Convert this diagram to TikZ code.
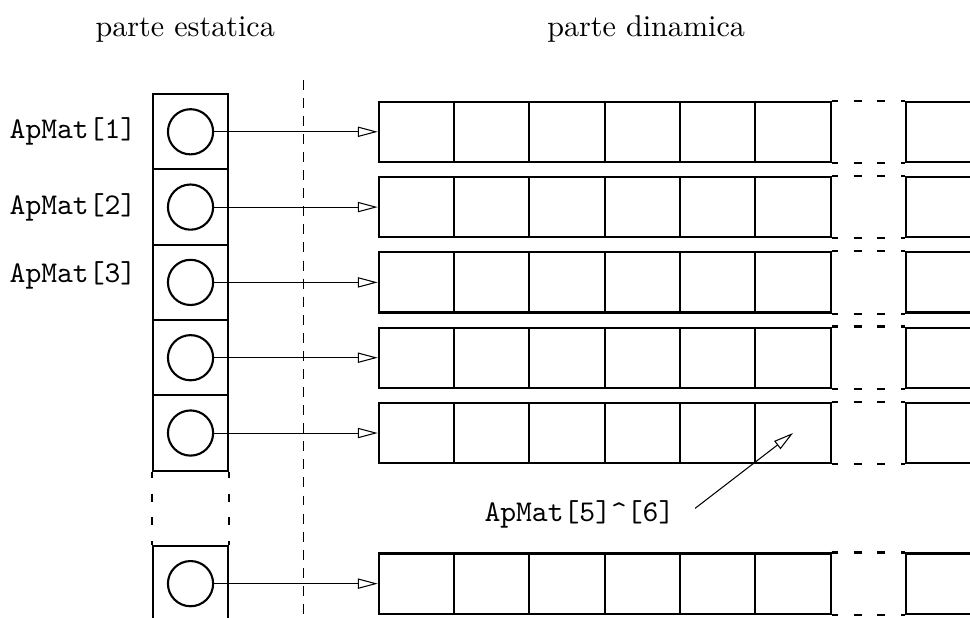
\documentclass[tikz,border=0pt]{standalone}
\usepackage{tikz}
\usetikzlibrary{positioning,arrows.meta}

\begin{document}
\begin{tikzpicture}[x=25pt, y=25pt,
    caja/.style={draw, line width=0.7pt, minimum size=25pt, inner sep=0pt},
    bola/.style={draw, circle, line width=0.7pt, minimum size=15pt, inner sep=0pt},
    celda/.style={draw, line width=0.7pt, minimum width=25pt, minimum height=20pt, inner sep=0pt},
    puntero/.style={-{Triangle[open, length=6.6pt, width=3.4pt]}, line width=0.35pt},
    corte/.style={line width=0.7pt, dash pattern=on 2pt off 5.3pt on 2.7pt off 5pt on 2.7pt off 5.3pt on 2pt off 1pt}]
    \useasboundingbox (-2.03,-0.445) rectangle (10.85,7.75);
    \clip (-2.03,-0.445) rectangle (10.85,7.75);

    % titulos
    \node (estatica) at (0.43,7.36) {parte estatica};
    \node (dinamica) at (6.55,7.37) {parte dinamica};

    % separacion entre las dos partes
    \draw [dash pattern=on 3.3pt off 2.7pt, line width=0.35pt] (2,6.69) -- (2,-0.5);

    % vector de punteros
    \foreach \i in {1,...,5} {
        \node [caja] (c\i) at (0.5,7-\i) {};
        \node [bola] (p\i) at (c\i) {};
    }
    \node [caja] (c6) at (0.5,0) {};
    \node [bola] (p6) at (c6) {};
    \draw [corte] (c5.south west) -- (c6.north west);
    \draw [corte] (c5.south east) -- (c6.north east);

    \foreach \i/\dy in {1/0,2/0,3/0.09}
        \node [left] (nombre\i) at (-0.08,7-\i+\dy) {\texttt{ApMat[\i]}};

    % filas dinamicas
    \foreach \i/\y in {1/6,2/5,3/4,4/3,5/2,6/0} {
        \foreach \j in {1,...,6}
            \node [celda] (r\i-\j) at (2.5+\j,\y) {};
        \node [celda] (r\i-7) at (10.5,\y) {};
        \draw [corte] (r\i-6.north east) -- (r\i-7.north west);
        \draw [corte] (r\i-6.south east) -- (r\i-7.south west);
        \draw [puntero] (p\i) -- (r\i-1);
    }

    % elemento senalado
    \node [left, inner xsep=6.7pt] (etiqueta) at (7.2,0.92) {\texttt{ApMat[5]\textasciicircum[6]}};
    \draw [puntero] ([yshift=2pt]etiqueta.east) -- (r5-6.center);
\end{tikzpicture}
\end{document}
